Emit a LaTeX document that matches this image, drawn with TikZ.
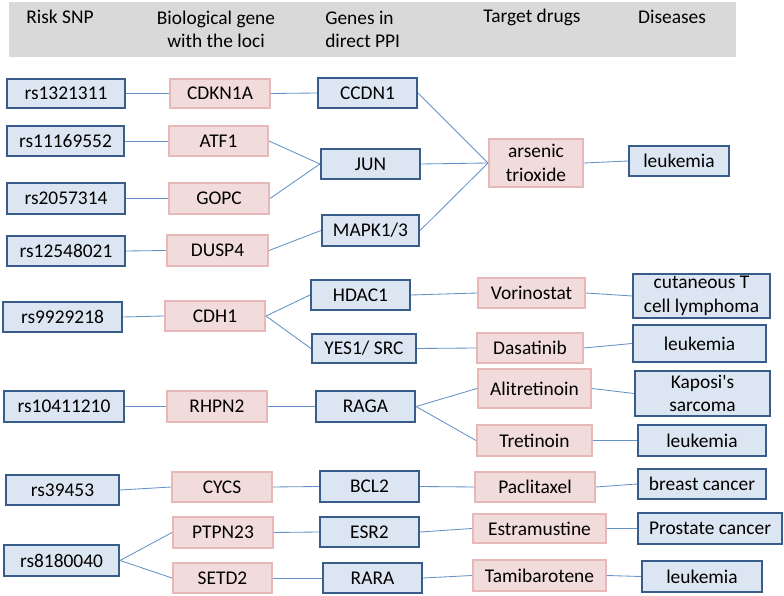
\documentclass[tikz,border=0pt]{standalone}
\usepackage{fontspec}
\setmainfont{Carlito}
\usepackage{tikz}
\usetikzlibrary{positioning}
\definecolor{boxblue}{RGB}{220,230,242}
\definecolor{edgeblue}{RGB}{56,93,138}
\definecolor{boxpink}{RGB}{242,220,219}
\definecolor{edgepink}{RGB}{230,185,184}
\definecolor{linkcol}{RGB}{100,145,200}
\definecolor{headgray}{RGB}{217,217,217}
\newcommand{\pxu}{0.025cm}
\tikzset{
  txt/.style={font=\fontsize{13.8}{16.6}\selectfont, inner sep=0pt},
  sz/.style 2 args={minimum width=#1*\pxu, minimum height=#2*\pxu},
  bbox/.style={rectangle, txt, draw=edgeblue, fill=boxblue,
    line width=1.5pt, align=center},
  pbox/.style={rectangle, txt, draw=edgepink, fill=boxpink,
    line width=1.4pt, align=center},
  hdr/.style={txt, align=center},
  link/.style={draw=linkcol, line width=0.6pt},
}

\begin{document}
\begin{tikzpicture}[x=0.025cm, y=-0.025cm]
  \useasboundingbox (0,0) rectangle (784,596);

  % Header band
  \fill[headgray] (9,2) rectangle (736,57);
  \node[hdr] (hSnp)  at (60,17)   {Risk SNP};
  \node[hdr] (hGene) at (216,29.5) {Biological gene\\with the loci};
  \node[hdr, anchor=west, align=left] (hPpi) at (325,29.5) {Genes in\\direct PPI};
  \node[hdr] (hDrug) at (532,17)  {Target drugs};
  \node[hdr] (hDis)  at (672,17)  {Diseases};

  % Risk SNPs
  \node[bbox, sz={118}{29}] (snpA) at (66,93.5)   {rs1321311};
  \node[bbox, sz={117}{30}] (snpB) at (65.5,141)  {rs11169552};
  \node[bbox, sz={118}{31}] (snpC) at (66,198.5)  {rs2057314};
  \node[bbox, sz={118}{30}] (snpD) at (66,251)    {rs12548021};
  \node[bbox, sz={119}{30}] (snpE) at (62.5,317)  {rs9929218};
  \node[bbox, sz={120}{31}] (snpF) at (64,406.5)  {rs10411210};
  \node[bbox, sz={113}{30}] (snpG) at (62.5,490)  {rs39453};
  \node[bbox, sz={115}{31}] (snpH) at (61.5,560.5) {rs8180040};

  % Biological genes
  \node[pbox, sz={100}{29}] (genA) at (220,93.5)   {CDKN1A};
  \node[pbox, sz={99}{30}]  (genB) at (218.5,141)  {ATF1};
  \node[pbox, sz={100}{31}] (genC) at (219,198.5)  {GOPC};
  \node[pbox, sz={101}{31}] (genD) at (217.5,250.5) {DUSP4};
  \node[pbox, sz={100}{30}] (genE) at (215,316)    {CDH1};
  \node[pbox, sz={100}{31}] (genF) at (217,406.5)  {RHPN2};
  \node[pbox, sz={100}{30}] (genG) at (222,487)    {CYCS};
  \node[pbox, sz={100}{31}] (genH) at (223,532.5)  {PTPN23};
  \node[pbox, sz={99}{30}]  (genI) at (222.5,578)  {SETD2};

  % Genes in direct PPI
  \node[bbox, sz={99}{30}]  (ppiA) at (367.5,93)   {CCDN1};
  \node[bbox, sz={99}{30}]  (ppiB) at (370.5,164)  {JUN};
  \node[bbox, sz={97}{31}]  (ppiC) at (370.5,230.5) {MAPK1/3};
  \node[bbox, sz={99}{30}]  (ppiD) at (360.5,295)  {HDAC1};
  \node[bbox, sz={104}{29}] (ppiE) at (364,348.5)  {YES1/ SRC};
  \node[bbox, sz={99}{31}]  (ppiF) at (365.5,406.5) {RAGA};
  \node[bbox, sz={99}{31}]  (ppiG) at (369.5,486.5) {BCL2};
  \node[bbox, sz={99}{30}]  (ppiH) at (369.5,532)  {ESR2};
  \node[bbox, sz={99}{30}]  (ppiI) at (372.5,578)  {RARA};

  % Target drugs
  \node[pbox, sz={94}{48}]  (drgA) at (536,163)    {arsenic\\trioxide};
  \node[pbox, sz={107}{30}] (drgB) at (531.5,293)  {Vorinostat};
  \node[pbox, sz={106}{30}] (drgC) at (530,348)    {Dasatinib};
  \node[pbox, sz={113}{39}] (drgD) at (534.5,388.5) {Alitretinoin};
  \node[pbox, sz={115}{31}] (drgE) at (534.5,440.5) {Tretinoin};
  \node[pbox, sz={120}{30}] (drgF) at (535,487)    {Paclitaxel};
  \node[pbox, sz={133}{29}] (drgG) at (539.5,528.5) {Estramustine};
  \node[pbox, sz={133}{31}] (drgH) at (539.5,575.5) {Tamibarotene};

  % Diseases
  \node[bbox, sz={100}{30}] (disA) at (679,161)    {leukemia};
  \node[bbox, sz={137}{44}] (disB) at (701.5,296)  {cutaneous T\\cell lymphoma};
  \node[bbox, sz={133}{37}] (disC) at (699.5,343.5) {leukemia};
  \node[bbox, sz={135}{45}] (disD) at (702.5,393.5) {Kaposi\textquotesingle s\\sarcoma};
  \node[bbox, sz={128}{31}] (disE) at (702,440.5)  {leukemia};
  \node[bbox, sz={128}{30}] (disF) at (702,484)    {breast cancer};
  \node[bbox, sz={144}{31}] (disG) at (710,528.5)  {Prostate cancer};
  \node[bbox, sz={120}{31}] (disH) at (702,576.5)  {leukemia};

  % SNP -> gene
  \foreach \s/\g in {snpA/genA, snpB/genB, snpC/genC, snpD/genD,
                     snpE/genE, snpF/genF, snpG/genG, snpH/genH, snpH/genI}
    \draw[link] (\s.east) -- (\g.west);

  % gene -> PPI
  \foreach \g/\p in {genA/ppiA, genB/ppiB, genC/ppiB, genD/ppiC, genE/ppiD,
                     genE/ppiE, genF/ppiF, genG/ppiG, genH/ppiH, genI/ppiI}
    \draw[link] (\g.east) -- (\p.west);

  % PPI -> drug
  \foreach \p/\d in {ppiA/drgA, ppiB/drgA, ppiC/drgA, ppiD/drgB, ppiE/drgC,
                     ppiF/drgD, ppiF/drgE, ppiG/drgF, ppiH/drgG, ppiI/drgH}
    \draw[link] (\p.east) -- (\d.west);

  % drug -> disease
  \foreach \d/\x in {drgA/disA, drgB/disB, drgC/disC, drgD/disD,
                     drgE/disE, drgF/disF, drgG/disG, drgH/disH}
    \draw[link] (\d.east) -- (\x.west);
\end{tikzpicture}
\end{document}
